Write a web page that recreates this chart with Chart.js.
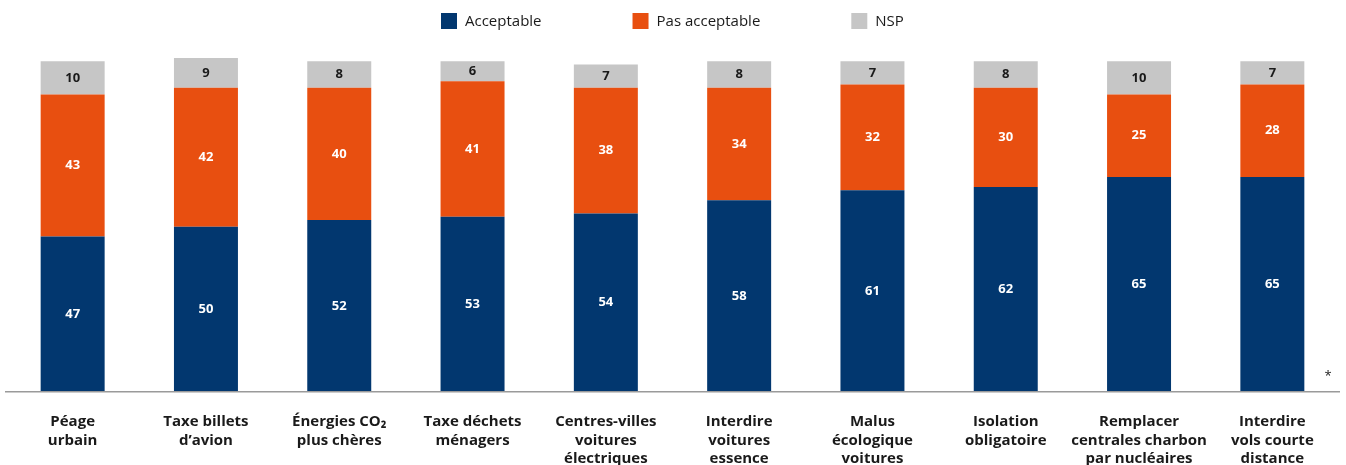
<!DOCTYPE html>
<html><head><meta charset="utf-8">
<script src="https://cdn.jsdelivr.net/npm/chart.js@4/dist/chart.umd.min.js"></script>
<style>html,body{margin:0;padding:0;background:#fff}#wrap{width:1346px;height:465px;position:relative}</style>
</head><body><div id="wrap"><canvas id="c"></canvas></div>
<script>
const categories = [
  ["Péage","urbain"],
  ["Taxe billets","d’avion"],
  ["Énergies CO₂","plus chères"],
  ["Taxe déchets","ménagers"],
  ["Centres-villes","voitures","électriques"],
  ["Interdire","voitures","essence"],
  ["Malus","écologique","voitures"],
  ["Isolation","obligatoire"],
  ["Remplacer","centrales charbon","par nucléaires"],
  ["Interdire","vols courte","distance"]
];
const acceptable    = [47, 50, 52, 53, 54, 58, 61, 62, 65, 65];
const pasAcceptable = [43, 42, 40, 41, 38, 34, 32, 30, 25, 28];
const nsp           = [10, 9, 8, 6, 7, 8, 7, 8, 10, 7];
const seriesNames = ["Acceptable", "Pas acceptable", "NSP"];
const colors = ["#02376f", "#e84f10", "#c6c6c6"];
const labelColors = ["#ffffff", "#ffffff", "#1a1a1a"];
const footnote = "*";

const FONT = "'Open Sans', 'Noto Sans', sans-serif";

const customLegend = {
  id: 'customLegend',
  afterDraw(chart) {
    const ctx = chart.ctx;
    ctx.save();
    ctx.font = "15px " + FONT;
    ctx.textBaseline = 'middle';
    ctx.textAlign = 'left';
    const box = 16, gapText = 8, gapItem = 91;
    let x = 441;
    const yc = 21;
    chart.data.datasets.forEach((ds) => {
      ctx.fillStyle = ds.backgroundColor;
      ctx.fillRect(x, yc - box / 2, box, box);
      ctx.fillStyle = '#1a1a1a';
      ctx.fillText(ds.label, x + box + gapText, yc + 1);
      x += box + gapText + ctx.measureText(ds.label).width + gapItem;
    });
    ctx.restore();
  }
};

const valueLabels = {
  id: 'valueLabels',
  afterDatasetsDraw(chart) {
    const ctx = chart.ctx;
    ctx.save();
    ctx.font = "bold 13px " + FONT;
    ctx.textAlign = 'center';
    ctx.textBaseline = 'middle';
    chart.data.datasets.forEach((ds, i) => {
      const meta = chart.getDatasetMeta(i);
      meta.data.forEach((bar, j) => {
        const y = (bar.y + bar.base) / 2;
        ctx.fillStyle = labelColors[i];
        ctx.fillText(String(ds.data[j]), bar.x, y);
      });
    });
    const ca = chart.chartArea;
    ctx.fillStyle = '#1a1a1a';
    ctx.font = "13px " + FONT;
    ctx.fillText(footnote, ca.right - 11, ca.bottom - 16);
    ctx.restore();
  }
};

new Chart(document.getElementById('c'), {
  type: 'bar',
  data: {
    labels: categories,
    datasets: [
      { label: seriesNames[0], data: acceptable, backgroundColor: colors[0] },
      { label: seriesNames[1], data: pasAcceptable, backgroundColor: colors[1] },
      { label: seriesNames[2], data: nsp, backgroundColor: colors[2] }
    ]
  },
  options: {
    responsive: true,
    maintainAspectRatio: false,
    animation: false,
    layout: { padding: { left: 6, right: 7, top: 58, bottom: 0 } },
    datasets: { bar: { categoryPercentage: 1.0, barPercentage: 0.48 } },
    plugins: {
      legend: { display: false },
      tooltip: { enabled: false }
    },
    scales: {
      x: {
        stacked: true,
        grid: { display: false, drawTicks: false },
        border: { display: true, color: '#9a9a9a', width: 1.5, z: 1 },
        afterFit(scale) { scale.height = 73; },
        ticks: {
          color: '#1a1a1a', padding: 21, maxRotation: 0, autoSkip: false,
          font: { family: FONT, size: 15, weight: 'bold', lineHeight: 1.23 }
        }
      },
      y: {
        stacked: true, display: false, min: 0, max: 101
      }
    }
  },
  plugins: [valueLabels, customLegend]
});
</script></body></html>
